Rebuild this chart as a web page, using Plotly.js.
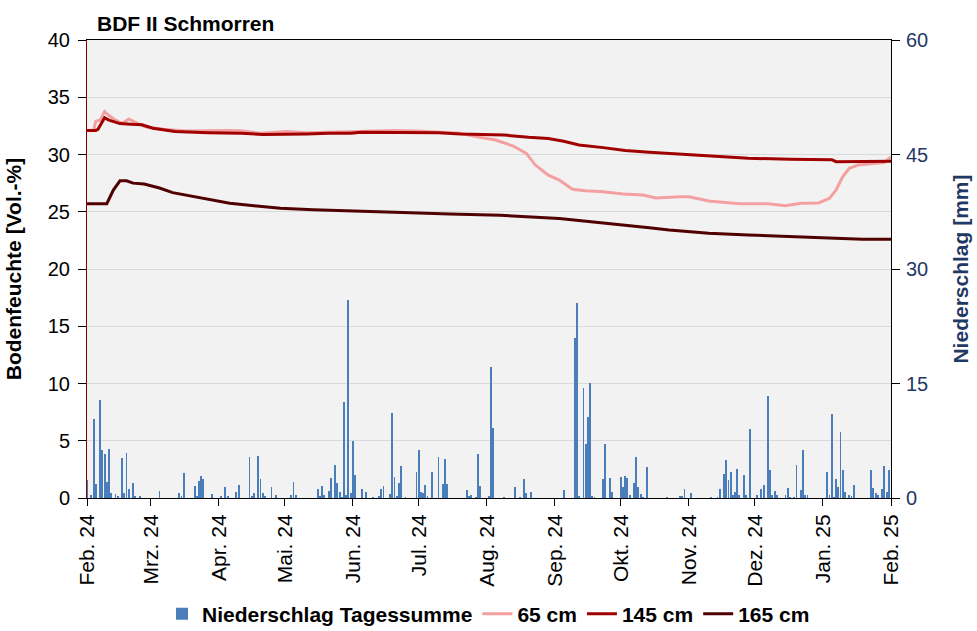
<!DOCTYPE html>
<html>
<head>
<meta charset="utf-8">
<script src="https://cdn.plot.ly/plotly-3.0.1.min.js"></script>
<style>html,body{margin:0;padding:0;background:#fff;}#chart{width:977px;height:631px;}</style>
</head>
<body>
<div id="chart"></div>
<script>
// ---- Data ----
const monthTicks = ['2024-02-01','2024-03-01','2024-04-01','2024-05-01','2024-06-01','2024-07-01','2024-08-01','2024-09-01','2024-10-01','2024-11-01','2024-12-01','2025-01-01','2025-02-01'];
const monthLabels = ['Feb. 24','Mrz. 24','Apr. 24','Mai. 24','Jun. 24','Jul. 24','Aug. 24','Sep. 24','Okt. 24','Nov. 24','Dez. 24','Jan. 25','Feb. 25'];

// Daily precipitation (mm), days with rain
const precipDates = [
'2024-02-01','2024-02-03','2024-02-04','2024-02-05','2024-02-07','2024-02-08','2024-02-09','2024-02-10','2024-02-11','2024-02-12',
'2024-02-14','2024-02-15','2024-02-17','2024-02-18','2024-02-19','2024-02-20','2024-02-22','2024-02-23','2024-02-25','2024-03-05',
'2024-03-14','2024-03-15','2024-03-16','2024-03-21','2024-03-22','2024-03-23','2024-03-24','2024-03-25','2024-03-29','2024-04-02',
'2024-04-04','2024-04-05','2024-04-09','2024-04-10','2024-04-15','2024-04-16','2024-04-17','2024-04-19','2024-04-20','2024-04-21',
'2024-04-22','2024-04-25','2024-04-27','2024-05-04','2024-05-05','2024-05-06','2024-05-16','2024-05-17','2024-05-18','2024-05-19',
'2024-05-21','2024-05-22','2024-05-24','2024-05-25','2024-05-26','2024-05-27','2024-05-28','2024-05-29','2024-05-30','2024-05-31',
'2024-06-01','2024-06-02','2024-06-05','2024-06-07','2024-06-10','2024-06-13','2024-06-14','2024-06-15','2024-06-18','2024-06-19',
'2024-06-20','2024-06-21','2024-06-22','2024-06-23','2024-06-25','2024-06-30','2024-07-01','2024-07-02','2024-07-03','2024-07-04',
'2024-07-05','2024-07-07','2024-07-10','2024-07-12','2024-07-13','2024-07-14','2024-07-23','2024-07-24','2024-07-25','2024-07-27',
'2024-07-28','2024-07-29','2024-08-02','2024-08-03','2024-08-04','2024-08-09','2024-08-14','2024-08-16','2024-08-18','2024-08-19',
'2024-08-21','2024-09-05','2024-09-10','2024-09-11','2024-09-12','2024-09-14','2024-09-15','2024-09-16','2024-09-17','2024-09-18',
'2024-09-19','2024-09-23','2024-09-24','2024-09-26','2024-09-27','2024-10-01','2024-10-02','2024-10-03','2024-10-04','2024-10-05',
'2024-10-07','2024-10-08','2024-10-09','2024-10-10','2024-10-11','2024-10-13','2024-10-22','2024-10-28','2024-10-29','2024-10-30',
'2024-11-02','2024-11-11','2024-11-14','2024-11-15','2024-11-17','2024-11-18','2024-11-19','2024-11-20','2024-11-21','2024-11-22',
'2024-11-23','2024-11-24','2024-11-26','2024-11-27','2024-11-29','2024-12-02','2024-12-04','2024-12-05','2024-12-07','2024-12-08',
'2024-12-09','2024-12-10','2024-12-11','2024-12-15','2024-12-16','2024-12-17','2024-12-19','2024-12-20','2024-12-22','2024-12-23',
'2024-12-24','2024-12-25','2025-01-03','2025-01-04','2025-01-05','2025-01-06','2025-01-07','2025-01-08','2025-01-09','2025-01-10',
'2025-01-11','2025-01-13','2025-01-14','2025-01-15','2025-01-23','2025-01-24','2025-01-25','2025-01-26','2025-01-28','2025-01-29',
'2025-01-30','2025-01-31'];
const precipMm = [
2.4,0.4,10.3,1.9,12.8,6.3,5.8,2.1,6.4,0.65,
0.5,0.2,5.2,0.7,5.9,1.2,2.0,0.2,0.3,0.9,
0.65,0.2,3.3,1.6,0.2,2.2,2.9,2.5,0.5,0.25,
1.4,0.25,0.8,1.7,5.4,0.25,0.65,5.5,2.5,0.65,
0.2,1.4,0.4,0.4,2.1,0.4,1.2,0.2,1.6,0.4,
0.9,2.6,4.3,2.0,0.8,0.15,12.6,0.4,25.9,0.65,
7.5,3.0,1.2,0.8,0.15,0.25,1.2,1.6,0.5,11.1,
2.75,0.25,2.0,4.2,0.15,3.4,6.3,0.8,0.65,1.7,
0.25,3.4,5.4,1.8,5.1,1.8,1.05,0.25,0.4,0.15,
5.8,1.6,0.25,17.2,9.2,0.15,1.4,0.15,2.5,0.65,
0.8,1.05,21.0,25.6,0.2,14.4,7.1,10.6,15.1,0.25,
0.15,2.5,7.1,2.6,0.8,2.75,1.4,2.9,2.6,0.4,
2.0,5.4,1.4,0.5,0.15,4.1,0.15,0.25,0.25,1.2,
0.65,0.15,0.15,1.2,3.1,5.0,2.4,3.4,0.4,0.8,
3.8,0.4,3.0,0.4,9.0,0.4,1.2,1.7,13.4,3.7,
0.4,0.9,0.4,0.4,1.3,0.15,0.15,4.3,1.05,6.3,
0.4,0.4,3.4,0.4,11.0,0.15,2.5,1.4,8.6,3.7,
0.8,0.4,0.25,1.7,3.7,1.3,0.65,0.4,1.2,4.2,
0.8,3.7];

// Soil moisture (Vol.-%)
const d65 = ['2024-02-01','2024-02-04','2024-02-05','2024-02-07','2024-02-09','2024-02-11','2024-02-14','2024-02-17','2024-02-20','2024-02-23','2024-02-28','2024-03-07','2024-03-17','2024-03-27','2024-04-06','2024-04-11','2024-04-20','2024-05-02','2024-05-11','2024-05-21','2024-05-31','2024-06-10','2024-06-20','2024-06-30','2024-07-10','2024-07-20','2024-07-27','2024-08-05','2024-08-13','2024-08-19','2024-08-23','2024-08-29','2024-09-03','2024-09-09','2024-09-15','2024-09-23','2024-10-02','2024-10-11','2024-10-17','2024-10-23','2024-10-28','2024-11-01','2024-11-10','2024-11-24','2024-12-07','2024-12-15','2024-12-22','2024-12-30','2025-01-04','2025-01-07','2025-01-10','2025-01-13','2025-01-17','2025-01-25','2025-01-29','2025-02-01'];
const v65 = [32.1,32.1,32.9,33.0,33.75,33.4,33.0,32.7,33.1,32.8,32.4,32.2,32.05,32.1,32.1,32.08,31.85,32.0,31.9,31.95,32.0,32.05,32.1,32.05,31.95,31.85,31.56,31.27,30.74,30.1,29.1,28.2,27.77,26.96,26.84,26.75,26.55,26.46,26.2,26.3,26.32,26.3,25.94,25.7,25.7,25.53,25.75,25.77,26.17,26.9,28.06,28.8,29.08,29.23,29.3,29.8];

const d145 = ['2024-02-01','2024-02-05','2024-02-06','2024-02-09','2024-02-11','2024-02-16','2024-02-21','2024-02-26','2024-03-02','2024-03-12','2024-03-27','2024-04-11','2024-04-21','2024-05-01','2024-05-11','2024-05-21','2024-05-31','2024-06-05','2024-06-20','2024-07-10','2024-07-20','2024-08-01','2024-08-09','2024-08-20','2024-08-29','2024-09-05','2024-09-12','2024-09-23','2024-10-03','2024-10-14','2024-10-23','2024-11-01','2024-11-19','2024-11-28','2024-12-17','2025-01-05','2025-01-07','2025-02-01'];
const v145 = [32.1,32.1,32.2,33.2,33.0,32.7,32.65,32.6,32.3,32.0,31.9,31.85,31.75,31.75,31.8,31.85,31.85,31.95,31.93,31.9,31.8,31.75,31.7,31.5,31.4,31.15,30.83,30.6,30.34,30.2,30.1,29.96,29.8,29.67,29.58,29.55,29.37,29.4];

const d165 = ['2024-02-01','2024-02-10','2024-02-13','2024-02-16','2024-02-19','2024-02-22','2024-02-27','2024-03-05','2024-03-11','2024-03-19','2024-03-29','2024-04-06','2024-04-17','2024-04-29','2024-05-14','2024-06-01','2024-06-20','2024-07-15','2024-08-07','2024-09-03','2024-09-30','2024-10-14','2024-10-23','2024-11-10','2024-11-28','2024-12-17','2025-01-05','2025-01-19','2025-02-01'];
const v165 = [25.7,25.7,26.9,27.7,27.7,27.5,27.43,27.07,26.67,26.4,26.03,25.74,25.53,25.3,25.18,25.05,24.95,24.8,24.7,24.4,23.9,23.61,23.4,23.12,22.97,22.82,22.7,22.6,22.6];

// ---- Chart ----
const FONT = 'Arial, "Liberation Sans", sans-serif';
const BLUE_TXT = '#1f3864';
const DAY = 86400000;

const traces = [
  {type:'bar', name:'Niederschlag Tagessumme', x:precipDates, y:precipMm, yaxis:'y2',
   marker:{color:'#4a7ebb', line:{width:0}}, width:0.85*DAY},
  {type:'scatter', mode:'lines', name:'65 cm', x:d65, y:v65, yaxis:'y',
   line:{color:'#f4a0a0', width:3}},
  {type:'scatter', mode:'lines', name:'145 cm', x:d145, y:v145, yaxis:'y',
   line:{color:'#a00000', width:3}},
  {type:'scatter', mode:'lines', name:'165 cm', x:d165, y:v165, yaxis:'y',
   line:{color:'#500000', width:3}}
];

const layout = {
  width:977, height:631,
  margin:{l:87, r:86, t:40, b:133, pad:0},
  paper_bgcolor:'#ffffff', plot_bgcolor:'#f2f2f2',
  font:{family:FONT, color:'#000', size:20},
  showlegend:true,
  title:{text:'<b>BDF II Schmorren</b>', x:97/977, xanchor:'left', xref:'container',
         y:1-24/631, yanchor:'middle', yref:'container', font:{size:21, family:FONT, color:'#000'}},
  bargap:0,
  xaxis:{type:'date', range:['2024-02-01','2025-02-01'], tickvals:monthTicks, ticktext:monthLabels,
         tickangle:-90, ticks:'outside', ticklen:7, tickcolor:'#000', tickfont:{size:21, family:FONT},
         showgrid:false, zeroline:false, showline:true, linecolor:'#000', linewidth:1, mirror:true, fixedrange:true},
  yaxis:{range:[0,40], dtick:5, tick0:0, ticks:'outside', ticklen:8, tickcolor:'#000',
         tickfont:{size:20, family:FONT}, ticklabelstandoff:4, gridcolor:'#d9d9d9', gridwidth:1, zeroline:false,
         showline:true, linecolor:'#7f0000', linewidth:1,
         title:{text:'<b>Bodenfeuchte [Vol.-%]</b>', font:{size:21, family:FONT, color:'#000'}, standoff:20}},
  yaxis2:{range:[0,60], dtick:15, tick0:0, overlaying:'y', side:'right', ticks:'outside', ticklen:8,
          tickcolor:'#000', tickfont:{size:20, family:FONT, color:BLUE_TXT}, ticklabelstandoff:2, showgrid:false, zeroline:false,
          showline:true, linecolor:'#000', linewidth:1,
          title:{text:'<b>Niederschlag [mm]</b>', font:{size:21, family:FONT, color:BLUE_TXT}, standoff:26}},
  legend:{orientation:'h', x:0.5, xanchor:'center', xref:'container', y:1-614/631, yref:'container', yanchor:'middle',
          font:{size:21, family:FONT, color:'#000', weight:'bold'}, itemwidth:30, tracegroupgap:0,
          bgcolor:'rgba(0,0,0,0)'}
};

Plotly.newPlot('chart', traces, layout, {displayModeBar:false, staticPlot:true});
</script>
</body>
</html>
